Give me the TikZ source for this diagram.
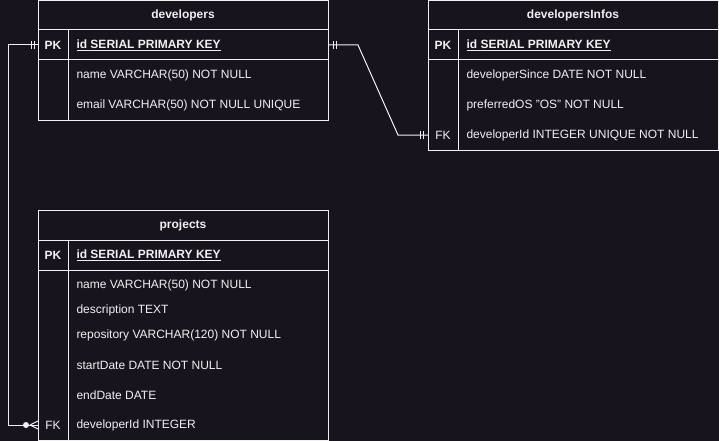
\documentclass[tikz,border=0pt]{standalone}
\usepackage{fontspec}
\setmainfont{Liberation Sans}[Ligatures=NoCommon]
\definecolor{bg}{HTML}{18141D}
\definecolor{fg}{HTML}{F0F0F0}
\begin{document}
\begin{tikzpicture}[x=1pt,y=-1pt,line width=1pt,
  every node/.style={text=fg,font=\fontsize{12}{14}\selectfont,inner sep=0pt},
  frame/.style={draw=fg},
  hdr/.style={font=\fontsize{12}{14}\selectfont\bfseries},
  keyc/.style={anchor=center},
  keyb/.style={anchor=center,font=\fontsize{12}{14}\selectfont\bfseries},
  attr/.style={anchor=west},
  conn/.style={draw=fg,line width=1pt}]
\fill[bg] (0,0) rectangle (719,441);
\useasboundingbox (0,0) rectangle (719,441);

% ---------- developers ----------
\draw[frame] (38,0.5) rectangle (328,120);
\draw[frame] (38,30) -- (328,30) (38,60) -- (328,60) (68,30) -- (68,120);
\node[hdr] (devT) at (183,15) {developers};
\node[keyb] (devPK) at (53,45) {PK};
\node[attr] (devId) at (76,45) {\underline{\textbf{id SERIAL PRIMARY KEY}}};
\node[attr] (devName) at (76,75) {name VARCHAR(50) NOT NULL};
\node[attr] (devEmail) at (76,105) {email VARCHAR(50) NOT NULL UNIQUE};

% ---------- developersInfos ----------
\draw[frame] (428,0.5) rectangle (718,150);
\draw[frame] (428,30) -- (718,30) (428,60) -- (718,60) (458,30) -- (458,150);
\node[hdr] (infT) at (573,15) {developersInfos};
\node[keyb] (infPK) at (443,45) {PK};
\node[attr] (infId) at (466,45) {\underline{\textbf{id SERIAL PRIMARY KEY}}};
\node[attr] (infSince) at (466,75) {developerSince DATE NOT NULL};
\node[attr] (infOS) at (466,105) {preferredOS \symbol{34}OS\symbol{34} NOT NULL};
\node[keyc] (infFK) at (443,135) {FK};
\node[attr] (infDev) at (466,135) {developerId INTEGER UNIQUE NOT NULL};

% ---------- projects ----------
\draw[frame] (38,210) rectangle (328,440);
\draw[frame] (38,240) -- (328,240) (38,270) -- (328,270) (68,240) -- (68,440);
\node[hdr] (prjT) at (183,225) {projects};
\node[keyb] (prjPK) at (53,255) {PK};
\node[attr] (prjId) at (76,255) {\underline{\textbf{id SERIAL PRIMARY KEY}}};
\node[attr] (prjName) at (76,285) {name VARCHAR(50) NOT NULL};
\node[attr] (prjDesc) at (76,310) {description TEXT};
\node[attr] (prjRepo) at (76,335) {repository VARCHAR(120) NOT NULL};
\node[attr] (prjStart) at (76,365) {startDate DATE NOT NULL};
\node[attr] (prjEnd) at (76,395) {endDate DATE};
\node[keyc] (prjFK) at (53,425) {FK};
\node[attr] (prjDev) at (76,425) {developerId INTEGER};

% ---------- connector anchors ----------
\coordinate (devL) at (38,45);
\coordinate (devR) at (328,45);
\coordinate (infL) at (428,135);
\coordinate (prjL) at (38,425);
\coordinate (c1) at (8,45);
\coordinate (c2) at (8,425);
\coordinate (d1) at (358,45);
\coordinate (d2) at (398,135);

% developers -> projects (one to zero-or-many)
\draw[conn] (devL) -- (c1) -- (c2) -- (prjL);
\draw[conn] ([xshift=-7pt,yshift=-4pt]devL) -- ([xshift=-7pt,yshift=4pt]devL)
            ([xshift=-4pt,yshift=-4pt]devL) -- ([xshift=-4pt,yshift=4pt]devL);
\fill[fg] ([xshift=-12pt]prjL) circle (3pt);
\draw[conn] ([xshift=-8pt]prjL) -- ([yshift=-4pt]prjL)
            ([xshift=-8pt]prjL) -- ([yshift=4pt]prjL);

% developers -> developersInfos (one to one)
\draw[conn] (devR) -- (d1) -- (d2) -- (infL);
\draw[conn] ([xshift=5pt,yshift=-4pt]devR) -- ([xshift=5pt,yshift=4pt]devR)
            ([xshift=8pt,yshift=-4pt]devR) -- ([xshift=8pt,yshift=4pt]devR);
\draw[conn] ([xshift=-8pt,yshift=-4pt]infL) -- ([xshift=-8pt,yshift=4pt]infL)
            ([xshift=-5pt,yshift=-4pt]infL) -- ([xshift=-5pt,yshift=4pt]infL);
\end{tikzpicture}
\end{document}
